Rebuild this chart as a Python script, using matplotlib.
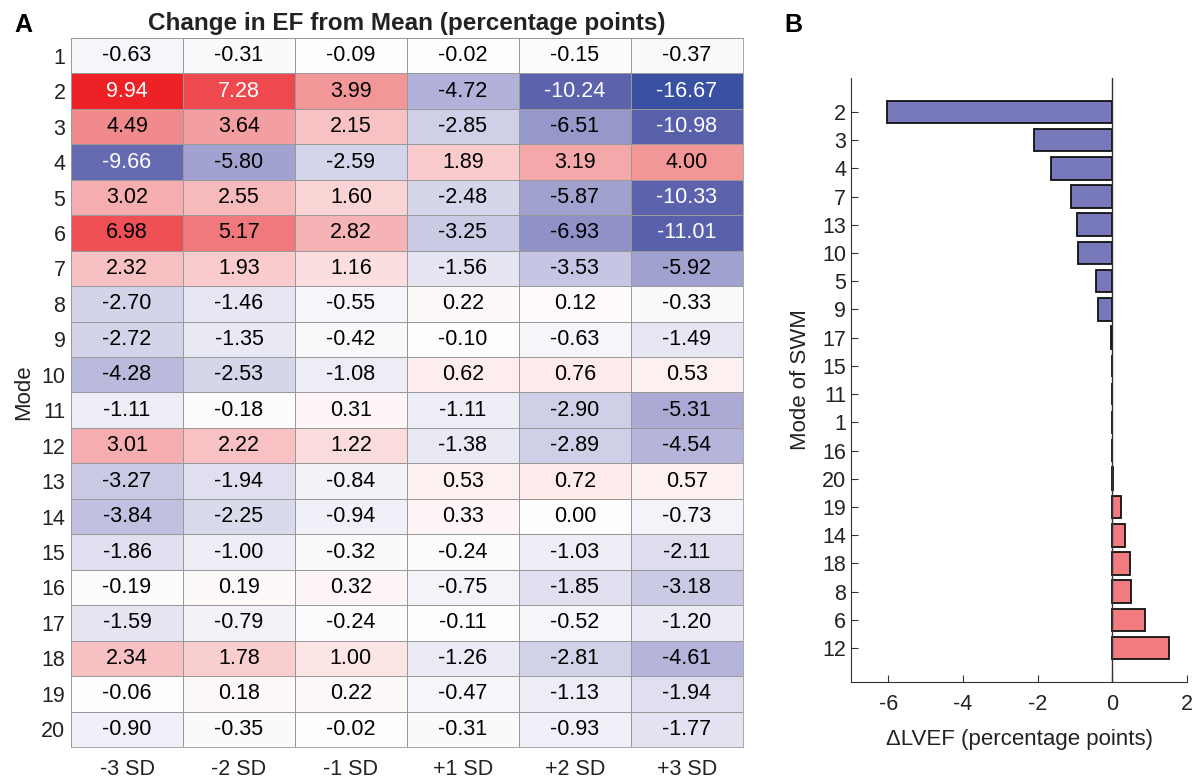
import numpy as np
import matplotlib
matplotlib.use("Agg")
import matplotlib.pyplot as plt
from matplotlib.colors import LinearSegmentedColormap, Normalize

plt.rcParams['font.family'] = ['Liberation Sans', 'DejaVu Sans']

# Panel A data: change in EF per mode and SD step
modes = list(range(1, 21))
sd_labels = ["-3 SD", "-2 SD", "-1 SD", "+1 SD", "+2 SD", "+3 SD"]
ef_change = np.array([
    [-0.63, -0.31, -0.09, -0.02, -0.15, -0.37],
    [9.94, 7.28, 3.99, -4.72, -10.24, -16.67],
    [4.49, 3.64, 2.15, -2.85, -6.51, -10.98],
    [-9.66, -5.80, -2.59, 1.89, 3.19, 4.00],
    [3.02, 2.55, 1.60, -2.48, -5.87, -10.33],
    [6.98, 5.17, 2.82, -3.25, -6.93, -11.01],
    [2.32, 1.93, 1.16, -1.56, -3.53, -5.92],
    [-2.70, -1.46, -0.55, 0.22, 0.12, -0.33],
    [-2.72, -1.35, -0.42, -0.10, -0.63, -1.49],
    [-4.28, -2.53, -1.08, 0.62, 0.76, 0.53],
    [-1.11, -0.18, 0.31, -1.11, -2.90, -5.31],
    [3.01, 2.22, 1.22, -1.38, -2.89, -4.54],
    [-3.27, -1.94, -0.84, 0.53, 0.72, 0.57],
    [-3.84, -2.25, -0.94, 0.33, 0.00, -0.73],
    [-1.86, -1.00, -0.32, -0.24, -1.03, -2.11],
    [-0.19, 0.19, 0.32, -0.75, -1.85, -3.18],
    [-1.59, -0.79, -0.24, -0.11, -0.52, -1.20],
    [2.34, 1.78, 1.00, -1.26, -2.81, -4.61],
    [-0.06, 0.18, 0.22, -0.47, -1.13, -1.94],
    [-0.90, -0.35, -0.02, -0.31, -0.93, -1.77],
])

# Panel B data: sorted delta LVEF per mode
bar_modes = ["2", "3", "4", "7", "13", "10", "5", "9", "17", "15",
             "11", "1", "16", "20", "19", "14", "18", "8", "6", "12"]
bar_values = [-6.03, -2.09, -1.64, -1.12, -0.94, -0.91, -0.44, -0.39, -0.03, -0.02,
              -0.02, -0.02, -0.01, 0.01, 0.24, 0.33, 0.47, 0.49, 0.87, 1.53]

vmin, vmax = ef_change.min(), ef_change.max()
nodes = [(-16.67, (58, 80, 162)), (-10.24, (93, 98, 172)), (-4.72, (179, 178, 217)),
         (-2.85, (208, 208, 232)), (0.0, (255, 255, 255)), (2.15, (248, 196, 198)),
         (3.99, (242, 150, 152)), (7.28, (238, 74, 80)), (9.94, (238, 33, 39))]
cmap = LinearSegmentedColormap.from_list(
    "ef", [((v - vmin) / (vmax - vmin), tuple(c / 255 for c in rgb)) for v, rgb in nodes])

fig = plt.figure(figsize=(11.98, 7.82), dpi=100)
txt = '#222222'

# ---- Panel A ----
axA = fig.add_axes([0.0593, 0.0448, 0.5607, 0.9066])
axA.pcolormesh(np.arange(7), np.arange(21), ef_change, cmap=cmap,
               norm=Normalize(vmin, vmax), edgecolors='#999999', linewidth=0.5)
axA.set_xlim(0, 6)
axA.set_ylim(20, 0)
for i in range(ef_change.shape[0]):
    for j in range(ef_change.shape[1]):
        v = ef_change[i, j]
        col = 'white' if (v > 7 or v < -9) else 'black'
        axA.text(j + 0.5, i + 0.5, f"{v:.2f}", ha='center', va='center',
                 fontsize=15.5, color=col)
axA.set_xticks(np.arange(6) + 0.5)
axA.set_xticklabels(sd_labels, fontsize=15.5)
axA.set_yticks(np.arange(20) + 0.5)
axA.set_yticklabels([str(m) for m in modes], fontsize=15.5)
axA.tick_params(length=0, pad=4, labelcolor=txt)
axA.tick_params(axis='x', pad=9)
for s in axA.spines.values():
    s.set_color('#999999')
    s.set_linewidth(0.6)
axA.set_ylabel("Mode", fontsize=16, labelpad=5, color=txt)
axA.set_title("Change in EF from Mean (percentage points)", fontsize=17.5,
              fontweight='bold', pad=6, color=txt)
fig.text(0.012, 0.968, "A", fontsize=18, fontweight='bold', va='center')

# ---- Panel B ----
axB = fig.add_axes([0.7104, 0.1279, 0.2804, 0.7724])
pos = np.arange(1, len(bar_values) + 1)
colors = ['#7678b9' if v < 0 else '#f17c80' for v in bar_values]
axB.barh(pos, bar_values, height=0.8, color=colors, edgecolor='#111111', linewidth=1.3)
axB.axvline(0, color='#333333', linewidth=1.0)
axB.set_xlim(-7, 2)
axB.set_ylim(len(bar_values) + 1.2, -0.2)
axB.set_yticks(pos)
axB.set_yticklabels(bar_modes, fontsize=15.5)
axB.set_xticks([-6, -4, -2, 0, 2])
axB.set_xticklabels(["-6", "-4", "-2", "0", "2"], fontsize=15.5)
axB.tick_params(direction='in', length=5, color='#333333', labelcolor=txt)
axB.tick_params(axis='x', pad=9)
axB.spines['top'].set_visible(False)
axB.spines['right'].set_visible(False)
for s in ['left', 'bottom']:
    axB.spines[s].set_color('#333333')
axB.set_xlabel("\u0394LVEF (percentage points)", fontsize=16, color=txt, labelpad=10)
axB.set_ylabel("Mode of SWM", fontsize=16, color=txt, labelpad=8)
fig.text(0.655, 0.968, "B", fontsize=18, fontweight='bold', va='center')

fig.savefig("out.png", dpi=100)
